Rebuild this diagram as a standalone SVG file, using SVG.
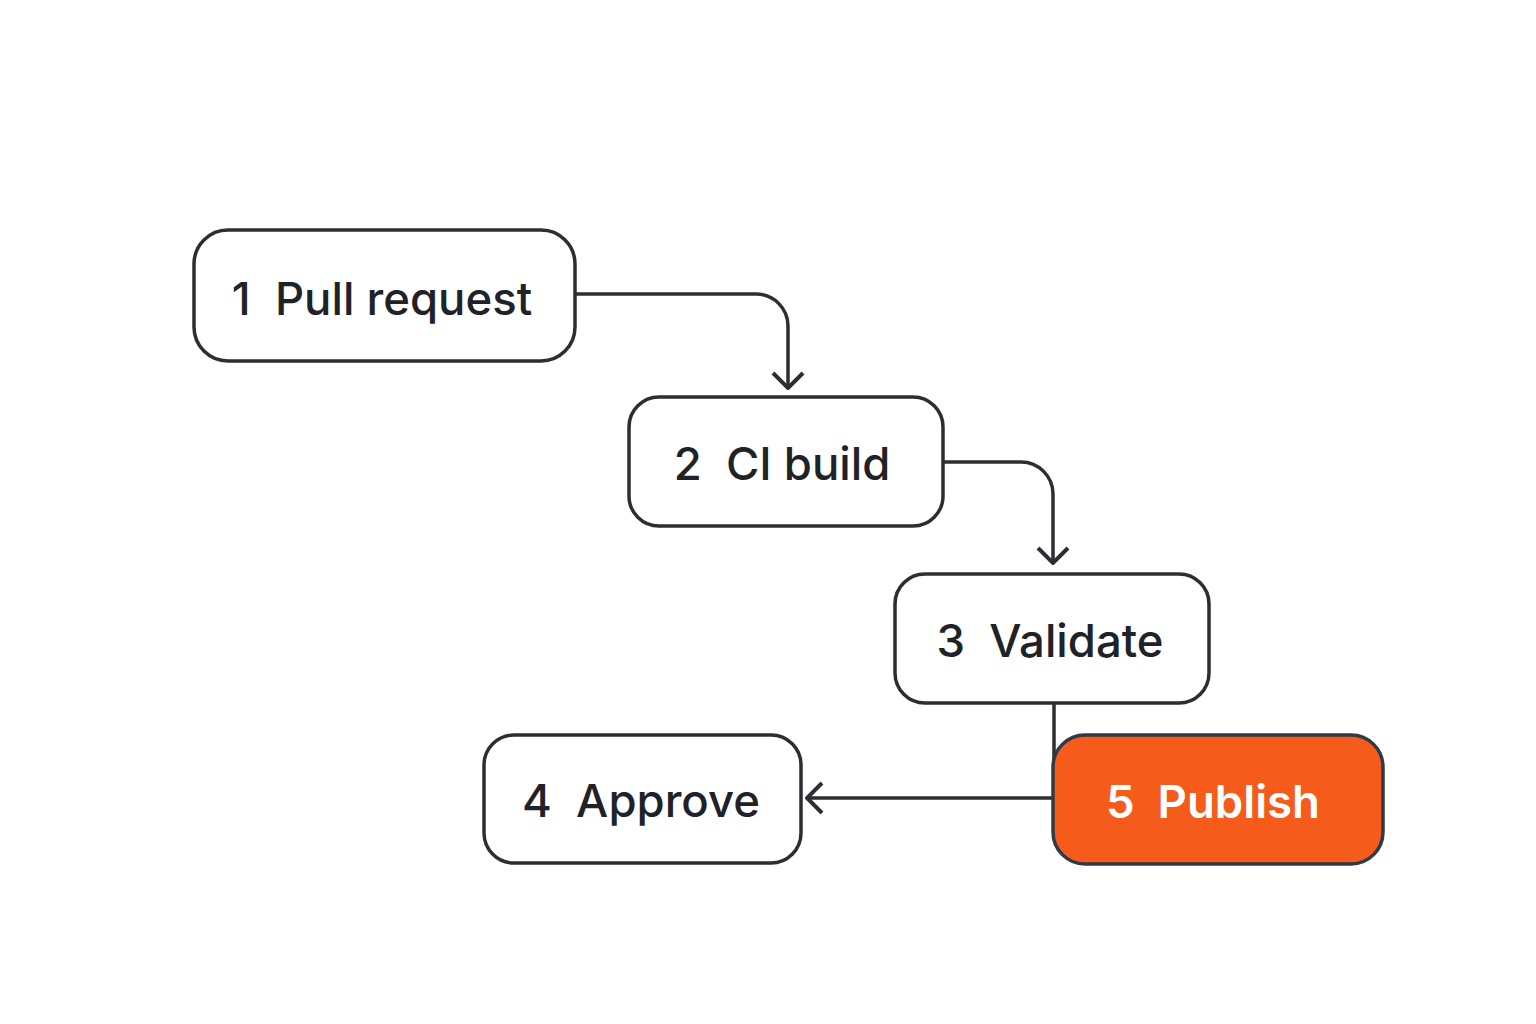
<svg xmlns="http://www.w3.org/2000/svg" width="1536" height="1024" viewBox="0 0 1536 1024">
<style>
.box{fill:#fff;stroke:#2b2f33;stroke-width:3.5}
.hot{fill:#f55b1a;stroke:#2e3a46;stroke-width:3.5}
.lbl{font-family:Inter,"Noto Sans",sans-serif;font-size:45.5px;font-weight:500;fill:#1f2226;white-space:pre}
.lblw{font-family:Inter,"Noto Sans",sans-serif;font-size:45.5px;font-weight:600;fill:#fff;white-space:pre}
.con{fill:none;stroke:#2b2f33;stroke-width:3.5}
</style>
<defs>
<marker id="ah" viewBox="0 0 20 34" refX="18" refY="17" markerWidth="20" markerHeight="34" markerUnits="userSpaceOnUse" orient="auto">
<path d="M3,2 L18,17 L3,32" fill="none" stroke="#2b2f33" stroke-width="4"/>
</marker>
</defs>
<rect width="1536" height="1024" fill="#fff"/>
<g id="connectors">
<path class="con" d="M575,294 H756 A32,32 0 0 1 788,326 V388" marker-end="url(#ah)"/>
<path class="con" d="M943,462 H1021 A32,32 0 0 1 1053,494 V563" marker-end="url(#ah)"/>
<path class="con" d="M1054,703 V798 H807" marker-end="url(#ah)"/>
</g>
<g id="node1"><rect class="box" x="194" y="230" width="381" height="131" rx="34"/><text class="lbl" x="382" y="315" text-anchor="middle">1  Pull request</text></g>
<g id="node2"><rect class="box" x="629" y="397" width="314" height="129" rx="30"/><text class="lbl" x="782" y="480" text-anchor="middle">2  CI build</text></g>
<g id="node3"><rect class="box" x="895" y="574" width="314" height="129" rx="30"/><text class="lbl" x="1050" y="657" text-anchor="middle">3  Validate</text></g>
<g id="node4"><rect class="box" x="484" y="735" width="317" height="128" rx="30"/><text class="lbl" x="641" y="817" text-anchor="middle">4  Approve</text></g>
<g id="node5"><rect class="hot" x="1053" y="735" width="330" height="129" rx="32"/><text class="lblw" x="1213" y="818" text-anchor="middle">5  Publish</text></g>
</svg>
